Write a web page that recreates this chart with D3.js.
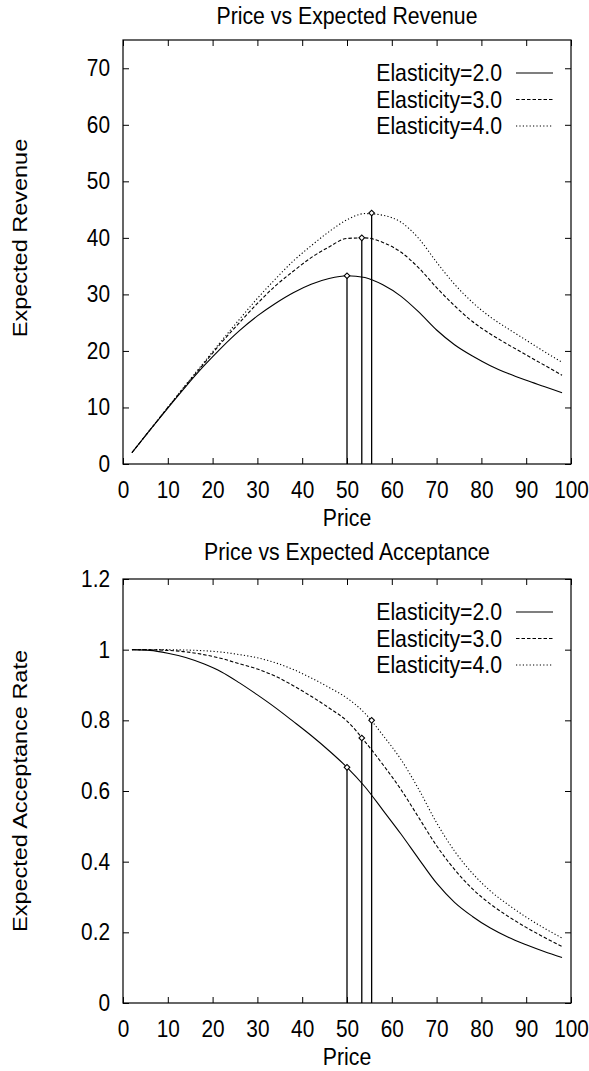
<!DOCTYPE html>
<html>
<head>
<meta charset="utf-8">
<script src="https://cdn.jsdelivr.net/npm/d3@7"></script>
<style>
    body { margin: 0; background: #fff; }
    text { font-family: "Liberation Sans", Arial, Helvetica, sans-serif; fill: #000; }
</style>
</head>
<body>
<div id="chart"></div>
<script>
/* global d3 */

// values
const price = [2, 6, 10, 14, 18, 22, 26, 30, 34, 38, 42, 46, 50, 54, 58, 62, 66, 70, 74, 78, 82, 86, 90, 94, 98]

const revenue2 = [2.0, 6.0, 9.9, 13.7, 17.3, 20.6, 23.6, 26.2, 28.4, 30.3, 31.8, 32.8, 33.3, 33.0, 31.7, 29.7, 26.9, 23.7, 21.1, 19.1, 17.4, 16.0, 14.8, 13.7, 12.6]
const revenue3 = [2.0, 6.0, 10.0, 13.9, 17.7, 21.5, 25.0, 28.4, 31.5, 34.1, 36.5, 38.4, 39.9, 40.0, 39.2, 37.5, 34.7, 31.2, 28.0, 25.2, 23.0, 21.1, 19.3, 17.5, 15.7]
const revenue4 = [2.0, 6.0, 10.0, 14.0, 17.9, 21.8, 25.6, 29.3, 32.7, 35.9, 38.6, 41.1, 43.2, 44.3, 44.0, 42.8, 39.9, 35.7, 31.8, 28.6, 26.0, 23.9, 21.9, 19.9, 18.0]

const acceptance2 = [1.000, 0.998, 0.990, 0.978, 0.960, 0.937, 0.906, 0.872, 0.836, 0.797, 0.757, 0.714, 0.667, 0.612, 0.546, 0.479, 0.408, 0.339, 0.285, 0.245, 0.212, 0.186, 0.165, 0.146, 0.129]
const acceptance3 = [1.000, 1.000, 0.998, 0.994, 0.986, 0.975, 0.960, 0.945, 0.925, 0.898, 0.868, 0.835, 0.798, 0.740, 0.675, 0.605, 0.525, 0.445, 0.378, 0.323, 0.280, 0.245, 0.214, 0.186, 0.160]
const acceptance4 = [1.000, 1.000, 1.000, 0.999, 0.997, 0.993, 0.986, 0.977, 0.963, 0.944, 0.920, 0.893, 0.863, 0.820, 0.758, 0.690, 0.605, 0.510, 0.430, 0.367, 0.317, 0.278, 0.243, 0.212, 0.184]

// optimal price for each elasticity (impulse + diamond)
const optPrice = [50.0, 53.3, 55.5]
const optRevenue = [33.3, 40.0, 44.4]
const optAcceptance = [0.667, 0.75, 0.80]

const seriesNames = ['Elasticity=2.0', 'Elasticity=3.0', 'Elasticity=4.0']

const xTicks = [0, 10, 20, 30, 40, 50, 60, 70, 80, 90, 100]
const revenueTicks = [0, 10, 20, 30, 40, 50, 60, 70]
const acceptanceTicks = [0, 0.2, 0.4, 0.6, 0.8, 1.0, 1.2]

// gnuplot text looks horizontally squeezed
const SQ = 0.886
const dashes = [null, '3.5,2', '1.2,2.2']

let svg = d3.select('#chart').append('svg')
    .attr('width', 589)
    .attr('height', 1071)

let xScale = d3.scaleLinear().domain([0, 100]).range([123, 571])

function drawPanel (opts) {
    let yScale = d3.scaleLinear().domain(opts.yDomain).range([opts.bottom, opts.top])
    let g = svg.append('g').attr('class', opts.cls)
    let x0 = xScale.range()[0]
    let x1 = xScale.range()[1]

    let styleAxis = (a) => {
        a.select('.domain').remove()
        a.attr('font-size', 23.5).attr('font-family', null)
        a.selectAll('line').attr('stroke', '#000')
    }

    // bottom ticks + labels
    g.append('g').attr('class', 'x-axis')
        .attr('transform', 'translate(0,' + opts.bottom + ')')
        .call(d3.axisBottom(xScale).tickValues(xTicks).tickSize(-6).tickSizeOuter(0).tickPadding(17))
        .call(styleAxis)
        .call(a => a.selectAll('text').attr('transform', 'scale(' + SQ + ',1)'))

    // top mirror ticks
    g.append('g')
        .attr('transform', 'translate(0,' + opts.top + ')')
        .call(d3.axisTop(xScale).tickValues(xTicks).tickSize(-6).tickSizeOuter(0).tickFormat(''))
        .call(styleAxis)

    // left ticks + labels
    g.append('g').attr('class', 'y-axis')
        .attr('transform', 'translate(' + x0 + ',0)')
        .call(d3.axisLeft(yScale).tickValues(opts.yTicks).tickSize(-6).tickSizeOuter(0).tickPadding(13)
            .tickFormat(d3.format('~g')))
        .call(styleAxis)
        .call(a => a.selectAll('text').attr('x', -13 / SQ).attr('transform', 'scale(' + SQ + ',1)'))

    // right mirror ticks
    g.append('g')
        .attr('transform', 'translate(' + x1 + ',0)')
        .call(d3.axisRight(yScale).tickValues(opts.yTicks).tickSize(-6).tickSizeOuter(0).tickFormat(''))
        .call(styleAxis)

    // frame
    g.append('rect')
        .attr('x', x0)
        .attr('y', opts.top)
        .attr('width', x1 - x0)
        .attr('height', opts.bottom - opts.top)
        .attr('fill', 'none')
        .attr('stroke', '#000')
        .attr('stroke-width', 1.2)

    // title
    g.append('text')
        .attr('transform', 'translate(' + ((x0 + x1) / 2) + ',' + (opts.top - opts.titleGap) + ') scale(' + SQ + ',1)')
        .attr('text-anchor', 'middle')
        .attr('font-size', 24)
        .text(opts.title)

    // x label
    g.append('text')
        .attr('transform', 'translate(' + ((x0 + x1) / 2) + ',' + (opts.bottom + 62) + ') scale(' + SQ + ',1)')
        .attr('text-anchor', 'middle')
        .attr('font-size', 24)
        .text('Price')

    // y label
    g.append('text')
        .attr('transform', 'translate(27,' + opts.yLabelY + ') rotate(-90) scale(1,' + SQ + ')')
        .attr('text-anchor', 'middle')
        .attr('font-size', 23.5)
        .text(opts.yLabel)

    // curves
    let line = d3.line()
        .x((d, i) => xScale(price[i]))
        .y((d) => yScale(d))
        .curve(d3.curveMonotoneX)

    opts.series.forEach((values, i) => {
        g.append('path')
            .datum(values)
            .attr('d', line)
            .attr('fill', 'none')
            .attr('stroke', '#000')
            .attr('stroke-width', 1.1)
            .attr('stroke-dasharray', dashes[i])
    })

    // impulses at the optimum
    g.append('g').selectAll('line')
        .data(optPrice)
        .enter()
        .append('line')
        .attr('x1', (d) => xScale(d))
        .attr('x2', (d) => xScale(d))
        .attr('y1', yScale(0))
        .attr('y2', (d, i) => yScale(opts.opt[i]))
        .attr('stroke', '#000')
        .attr('stroke-width', 1.3)

    g.append('g').selectAll('path')
        .data(optPrice)
        .enter()
        .append('path')
        .attr('d', d3.symbol().type(d3.symbolSquare).size(16))
        .attr('transform', (d, i) => 'translate(' + xScale(d) + ',' + yScale(opts.opt[i]) + ') rotate(45)')
        .attr('fill', '#fff')
        .attr('stroke', '#000')
        .attr('stroke-width', 1.1)

    // legend
    let legend = g.append('g').attr('class', 'legend')
    seriesNames.forEach((name, i) => {
        let ly = opts.top + 33 + i * 26.5
        legend.append('text')
            .attr('transform', 'translate(502,' + ly + ') scale(' + SQ + ',1)')
            .attr('dy', '0.35em')
            .attr('text-anchor', 'end')
            .attr('font-size', 24)
            .text(name)
        legend.append('line')
            .attr('x1', 516)
            .attr('x2', 553)
            .attr('y1', ly)
            .attr('y2', ly)
            .attr('stroke', '#000')
            .attr('stroke-width', 1.1)
            .attr('stroke-dasharray', dashes[i])
    })
}

drawPanel({
    cls: 'revenue',
    top: 40,
    bottom: 464,
    yDomain: [0, 75],
    yTicks: revenueTicks,
    title: 'Price vs Expected Revenue',
    titleGap: 16,
    yLabel: 'Expected Revenue',
    yLabelY: 238,
    series: [revenue2, revenue3, revenue4],
    opt: optRevenue
})

drawPanel({
    cls: 'acceptance',
    top: 579,
    bottom: 1003,
    yDomain: [0, 1.2],
    yTicks: acceptanceTicks,
    title: 'Price vs Expected Acceptance',
    titleGap: 19,
    yLabel: 'Expected Acceptance Rate',
    yLabelY: 791,
    series: [acceptance2, acceptance3, acceptance4],
    opt: optAcceptance
})
</script>
</body>
</html>
